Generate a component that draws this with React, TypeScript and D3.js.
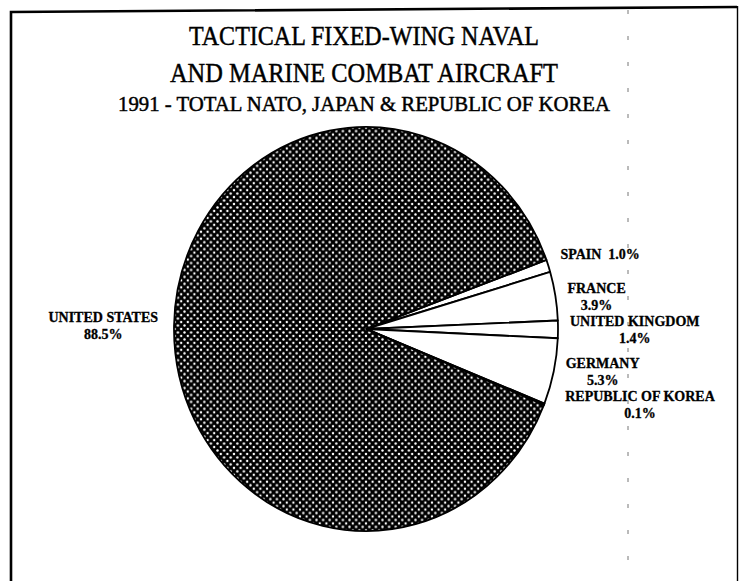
import React, { useEffect, useRef } from 'react'
import * as d3 from 'd3'

// slice order runs clockwise from the upper right
const countries = ['SPAIN', 'FRANCE', 'UNITED KINGDOM', 'GERMANY', 'REPUBLIC OF KOREA', 'UNITED STATES']
const shares = [1.0, 3.9, 1.4, 5.3, 0.1, 88.5]
const hatched = ['UNITED STATES']
const titleLines = [
    'TACTICAL FIXED-WING NAVAL',
    'AND MARINE COMBAT AIRCRAFT',
    '1991 - TOTAL NATO, JAPAN & REPUBLIC OF KOREA',
]

const width = 739
const height = 581
const cx = 366
const cy = 329
const rx = 192
const ry = 202
const serif = '"Liberation Serif", "Times New Roman", serif'

// title line layout: baseline, font size, stretched width
const titleLayout = [
    { y: 45, size: 27, len: 350 },
    { y: 82, size: 27, len: 388 },
    { y: 111, size: 20, len: 492 },
]

// label tweaks where the scan moved a label off its slice
const labelNudge = {
    'SPAIN': { dx: 0, dy: -12, inline: true },
    'REPUBLIC OF KOREA': { dx: 9, dy: 0 },
}

const pct = (v) => d3.format('.1f')(v) + '%'

function PieChart() {
    const ref = useRef(null)

    useEffect(() => {
        document.body.style.margin = '0'
        const svg = d3.select(ref.current)
        svg.selectAll('*').remove()

        const defs = svg.append('defs')
        const pat = defs.append('pattern')
            .attr('id', 'dots')
            .attr('patternUnits', 'userSpaceOnUse')
            .attr('width', 6.6)
            .attr('height', 6.6)
        pat.append('rect').attr('width', 6.6).attr('height', 6.6).attr('fill', '#000')
        pat.selectAll('circle')
            .data([[0, 0], [6.6, 0], [0, 6.6], [6.6, 6.6], [3.3, 3.3]])
            .join('circle')
            .attr('cx', d => d[0])
            .attr('cy', d => d[1])
            .attr('r', 1.2)
            .attr('fill', '#fff')

        svg.append('rect').attr('width', width).attr('height', height).attr('fill', '#fff')

        // frame of the scanned page
        svg.append('path')
            .attr('d', d3.line()([[11, height], [11, 12], [737, 7]]))
            .attr('fill', 'none')
            .attr('stroke', '#000')
            .attr('stroke-width', 2.6)
        svg.append('line')
            .attr('x1', 737.5).attr('x2', 737.5).attr('y1', 6).attr('y2', height)
            .attr('stroke', '#000').attr('stroke-width', 1.4)
        svg.append('line')
            .attr('x1', 628).attr('x2', 628).attr('y1', 10).attr('y2', height)
            .attr('stroke', '#777').attr('stroke-width', 1)
            .attr('stroke-dasharray', '4 22')

        const title = svg.append('g')
            .attr('font-family', serif)
            .attr('text-anchor', 'middle')
            .attr('fill', '#000')
            .attr('stroke', '#000')
            .attr('stroke-width', 0.45)
        titleLines.forEach((t, i) => {
            const l = titleLayout[i]
            title.append('text')
                .attr('x', 364)
                .attr('y', l.y)
                .attr('font-size', l.size)
                .attr('textLength', l.len)
                .attr('lengthAdjust', 'spacingAndGlyphs')
                .text(t)
        })

        const pie = d3.pie().sort(null)
            .startAngle(70 * Math.PI / 180)
            .endAngle(70 * Math.PI / 180 + 2 * Math.PI)
        const arcs = pie(shares)
        const arc = d3.arc().innerRadius(0).outerRadius(rx)

        svg.append('g')
            .attr('transform', `translate(${cx},${cy}) scale(1,${ry / rx})`)
            .selectAll('path')
            .data(arcs)
            .join('path')
            .attr('d', arc)
            .attr('fill', (d, i) => hatched.includes(countries[i]) ? 'url(#dots)' : '#fff')
            .attr('stroke', '#000')
            .attr('stroke-width', 1.8)
            .attr('stroke-linejoin', 'round')

        const labels = svg.append('g')
            .attr('font-family', serif)
            .attr('font-weight', 'bold')
            .attr('font-size', 14)
            .attr('fill', '#000')
            .attr('stroke', '#000')
            .attr('stroke-width', 0.3)

        arcs.forEach((a, i) => {
            const name = countries[i]
            const mid = (a.startAngle + a.endAngle) / 2
            const px = cx + rx * Math.sin(mid)
            const py = cy - ry * Math.cos(mid)
            const right = Math.sin(mid) > 0
            const nudge = labelNudge[name] || { dx: 0, dy: 0 }
            const x0 = (right ? px + 12 : px - 16) + nudge.dx
            const yc = py + nudge.dy

            if (nudge.inline) {
                const t = labels.append('text')
                    .attr('x', x0)
                    .attr('y', yc + 5)
                    .attr('text-anchor', right ? 'start' : 'end')
                t.append('tspan').text(name)
                t.append('tspan').attr('dx', 7).text(pct(shares[i]))
                return
            }

            const first = labels.append('text')
                .attr('x', x0)
                .attr('y', yc - 3.5)
                .attr('text-anchor', right ? 'start' : 'end')
                .text(name)
            const w = first.node().getComputedTextLength()
            labels.append('text')
                .attr('x', right ? x0 + w / 2 : x0 - w / 2)
                .attr('y', yc + 13.5)
                .attr('text-anchor', 'middle')
                .text(pct(shares[i]))
        })
    }, [])

    return <svg ref={ref} width={width} height={height} style={{ display: 'block' }} />
}

export default function App() {
    return <PieChart />
}
